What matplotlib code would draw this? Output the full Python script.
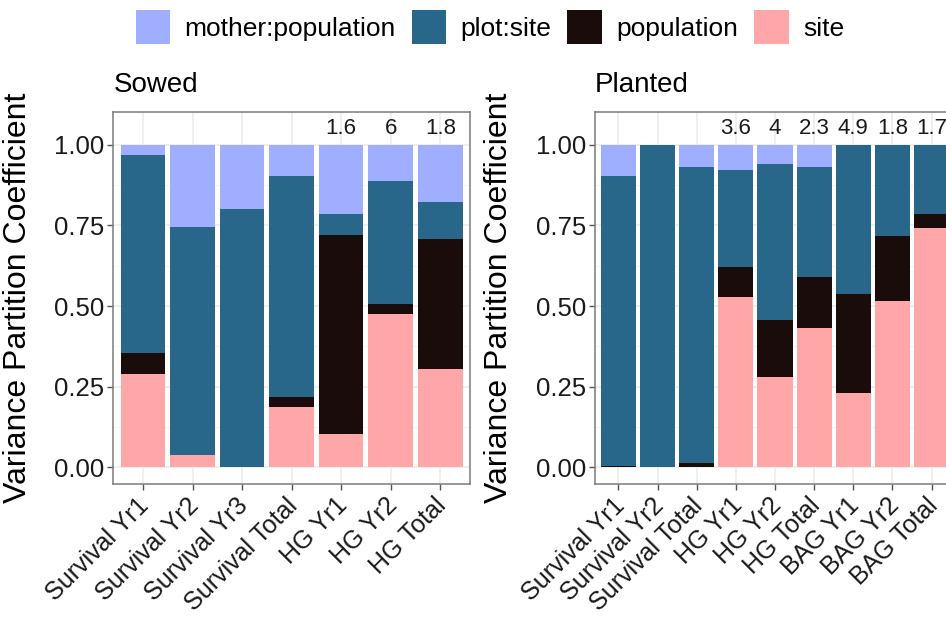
import numpy as np
import matplotlib.pyplot as plt
from matplotlib.ticker import MultipleLocator
from matplotlib.transforms import ScaledTranslation

plt.rcParams['font.family'] = ['Liberation Sans', 'DejaVu Sans']

# variance components, stacked bottom -> top: site, population, plot:site, mother:population
sowed_traits = ['Survival Yr1', 'Survival Yr2', 'Survival Yr3', 'Survival Total',
                'HG Yr1', 'HG Yr2', 'HG Total']
sowed_site = [0.290, 0.037, 0.000, 0.188, 0.103, 0.474, 0.305]
sowed_population = [0.064, 0.000, 0.000, 0.030, 0.618, 0.031, 0.403]
sowed_plot = [0.614, 0.708, 0.800, 0.684, 0.064, 0.382, 0.116]
sowed_mother = [0.032, 0.255, 0.200, 0.098, 0.215, 0.113, 0.176]
sowed_labels = ['', '', '', '', '1.6', '6', '1.8']

planted_traits = ['Survival Yr1', 'Survival Yr2', 'Survival Total', 'HG Yr1', 'HG Yr2',
                  'HG Total', 'BAG Yr1', 'BAG Yr2', 'BAG Total']
planted_site = [0.000, 0.000, 0.000, 0.529, 0.279, 0.431, 0.231, 0.517, 0.743]
planted_population = [0.003, 0.000, 0.012, 0.092, 0.179, 0.158, 0.306, 0.199, 0.042]
planted_plot = [0.901, 1.000, 0.919, 0.301, 0.481, 0.342, 0.463, 0.284, 0.215]
planted_mother = [0.096, 0.000, 0.069, 0.078, 0.061, 0.069, 0.000, 0.000, 0.000]
planted_labels = ['', '', '', '3.6', '4', '2.3', '4.9', '1.8', '1.7']

components = ['mother:population', 'plot:site', 'population', 'site']
colors = {'mother:population': '#A0AEFF', 'plot:site': '#28678A',
          'population': '#1A0C0B', 'site': '#FFA7A8'}

W, H = 946, 619
fig = plt.figure(figsize=(W / 100, H / 100), dpi=100)


def panel(rect, title, traits, site, pop, plot, mother, labels):
    ax = fig.add_axes(rect)
    x = np.arange(len(traits))
    bottom = np.zeros(len(traits))
    for name, vals in [('site', site), ('population', pop),
                       ('plot:site', plot), ('mother:population', mother)]:
        vals = np.array(vals)
        ax.bar(x, vals, width=0.9, bottom=bottom, color=colors[name],
               label=name, zorder=2)
        bottom += vals
    for xi, lab in zip(x, labels):
        ax.text(xi, 1.05, lab, ha='center', va='center', fontsize=16, color='#1a1a1a')

    ax.set_xlim(-0.6, len(traits) - 0.4)
    ax.set_ylim(-0.0525, 1.1025)
    ax.set_xticks(x)
    ax.set_xticklabels(traits, rotation=45, ha='right', va='top',
                       rotation_mode='anchor', fontsize=18)
    ax.set_yticks([0, 0.25, 0.5, 0.75, 1.0])
    ax.set_yticklabels(['0.00', '0.25', '0.50', '0.75', '1.00'], fontsize=18.5)
    ax.yaxis.set_minor_locator(MultipleLocator(0.125))
    ax.tick_params(axis='both', which='major', length=4.5,
                   width=1, color='#555555', labelcolor='#1a1a1a', pad=2)
    ax.tick_params(axis='y', which='minor', length=0)
    # nudge the rotated labels a little left so their ends sit under the ticks
    shift = ScaledTranslation(-6 / 100, 0, fig.dpi_scale_trans)
    for lab in ax.get_xticklabels():
        lab.set_transform(lab.get_transform() + shift)
    ax.grid(True, which='major', color='#EBEBEB', linewidth=1.1, zorder=0)
    ax.grid(True, which='minor', axis='y', color='#F2F2F2', linewidth=0.6, zorder=0)
    ax.set_axisbelow(True)
    for s in ax.spines.values():
        s.set_color('#7a7a7a')
        s.set_linewidth(1.1)
    ax.set_title(title, loc='left', fontsize=20, pad=14)
    ax.set_ylabel('Variance Partition Coefficient', fontsize=23)
    ax.yaxis.set_label_coords(-0.225, 0.5)
    return ax


bottom_px, top_px = 484.3, 111.7
ax1 = panel([113.3 / W, 1 - bottom_px / H, 356.7 / W, (bottom_px - top_px) / H],
            'Sowed', sowed_traits, sowed_site, sowed_population, sowed_plot,
            sowed_mother, sowed_labels)
ax2 = panel([595 / W, 1 - bottom_px / H, 360 / W, (bottom_px - top_px) / H],
            'Planted', planted_traits, planted_site, planted_population, planted_plot,
            planted_mother, planted_labels)

handles, names = ax1.get_legend_handles_labels()
order = [names.index(c) for c in components]
fig.legend([handles[i] for i in order], [names[i] for i in order],
           loc='center', bbox_to_anchor=(490 / W, 1 - 27 / H), ncol=4,
           frameon=False, fontsize=19, handlelength=1.31, handleheight=1.58,
           handletextpad=0.55, columnspacing=0.6, borderpad=0, borderaxespad=0)

fig.savefig('out.png', dpi=100)
